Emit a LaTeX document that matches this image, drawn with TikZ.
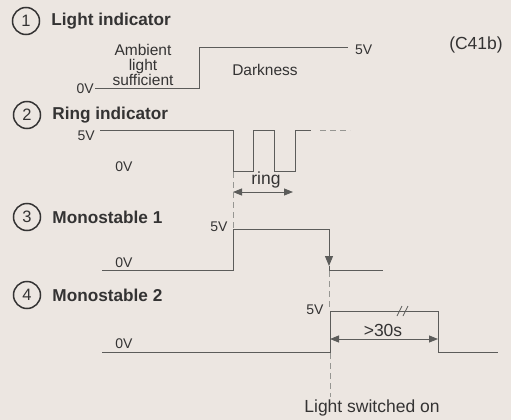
\documentclass[tikz,border=0pt]{standalone}
\usepackage{fontspec}
\setmainfont{Liberation Sans}
\usetikzlibrary{arrows.meta, positioning}
\definecolor{paper}{RGB}{236,230,225}
\definecolor{ink}{RGB}{52,51,51}
\definecolor{trace}{RGB}{92,92,90}
\definecolor{guidegray}{RGB}{150,150,146}
\tikzset{
    wave/.style = {trace, line width = 1pt},
    guide/.style = {guidegray, dash pattern = on 6pt off 4pt, line width = 0.8pt},
    lbl/.style = {ink, font = \fontsize{14}{14}\selectfont, inner sep = 0pt},
    txt/.style = {ink, font = \fontsize{15.5}{15}\selectfont, inner sep = 0pt},
    big/.style = {ink, font = \fontsize{17.5}{17.5}\selectfont, inner sep = 0pt},
    ttl/.style = {ink, font = \bfseries\fontsize{17.2}{17.5}\selectfont, inner sep = 0pt},
    numcirc/.style = {circle, draw = ink, line width = 1.5pt, minimum size = 27pt, inner sep = 0pt, ink, font = \fontsize{16.5}{16.5}\selectfont},
    dimline/.style = {trace, line width = 0.9pt, {Triangle[length = 9pt, width = 7pt]}-{Triangle[length = 9pt, width = 7pt]}}
}

\begin{document}
\begin{tikzpicture}[x = 1pt, y = -1pt]
    % paper
    \fill[paper] (0, 0) rectangle (511, 420);
    \useasboundingbox (0, 0) rectangle (511, 420);

    % draw titles
    \node[numcirc] (c1) at (26, 21) {1};
    \node[ttl, right = 11pt of c1] (t1) {Light indicator};
    \node[numcirc] (c2) at (27, 115) {2};
    \node[ttl, right = 11pt of c2] (t2) {Ring indicator};
    \node[numcirc] (c3) at (27, 217) {3};
    \node[ttl, right = 11pt of c3] (t3) {Monostable 1};
    \node[numcirc] (c4) at (27, 295) {4};
    \node[ttl, right = 11pt of c4] (t4) {Monostable 2};

    \node[big] (fig) at (476, 45) {(C41b)};


    % draw Light indicator
    \draw[wave] (95, 88) -- (199, 88) -- (199, 48) -- (348, 48);
    \node[lbl, anchor = east] (l1lo) at (94, 89) {0V};
    \node[lbl, anchor = west] (l1hi) at (355, 50) {5V};
    \node[txt, align = center] (amb) at (143, 65) {Ambient\\light\\sufficient};
    \node[txt] (dark) at (265, 70) {Darkness};


    % draw Ring indicator
    \draw[wave] (100, 130) -- (233, 130) -- (233, 171) -- (253, 171) -- (253, 130)
        -- (274, 130) -- (274, 171) -- (295, 171) -- (295, 130) -- (311, 130);
    \draw[guide, line width = 1pt] (320, 130) -- (350, 130);
    \node[lbl, anchor = east] (l2hi) at (95, 136) {5V};
    \node[lbl] (l2lo) at (124, 167) {0V};

    \coordinate (ringA) at (233, 192);
    \coordinate (ringB) at (293, 192);
    \draw[dimline] (ringA) -- (ringB);
    \node[big] (ring) at (266, 180) {ring};


    % draw Monostable 1
    \coordinate (m1fall) at (329, 229);
    \coordinate (m1tip) at (329, 266);
    \draw[wave] (102, 270) -- (233, 270) -- (233, 229) -- (m1fall);
    \draw[wave, -{Triangle[length = 10pt, width = 8pt]}] (m1fall) -- (m1tip);
    \draw[wave] (m1tip) -- (329, 270) -- (383, 270);
    \node[lbl] (l3hi) at (219, 227) {5V};
    \node[lbl] (l3lo) at (124, 263) {0V};


    % draw Monostable 2
    \draw[wave] (102, 352) -- (330, 352) -- (330, 311) -- (438, 311) -- (438, 352) -- (498, 352);
    \draw[trace, line width = 0.8pt] (397, 316) -- (402, 306);
    \draw[trace, line width = 0.8pt] (403, 316) -- (408, 306);
    \node[lbl] (l4hi) at (315, 310) {5V};
    \node[lbl] (l4lo) at (124, 344) {0V};

    \coordinate (holdA) at (330, 339);
    \coordinate (holdB) at (438, 339);
    \draw[dimline] (holdA) -- (holdB);
    \node[big] (hold) at (383, 330) {>30s};


    % draw guide lines
    \draw[guide] (233, 172) -- (233, 228);
    \draw[guide] (329, 271) -- (329, 310);
    \draw[guide] (330, 353) -- (330, 397);
    \node[big] (on) at (372, 408) {Light switched on};

\end{tikzpicture}
\end{document}
